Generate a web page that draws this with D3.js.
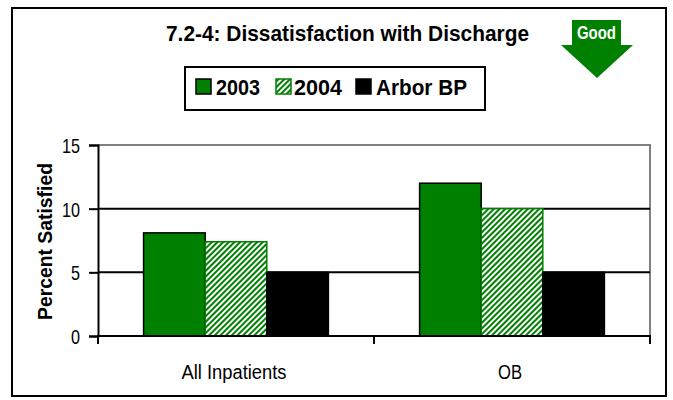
<!DOCTYPE html>
<html>
<head>
<meta charset="utf-8">
<script src="https://cdn.jsdelivr.net/npm/d3@7"></script>
<style>
  body { margin: 0; background: #fff; }
  svg { display: block; font-family: "Liberation Sans", Arial, sans-serif; }
</style>
</head>
<body>
<div id="chart"></div>
<script>
var categories = ["All Inpatients", "OB"];
var series = ["2003", "2004", "Arbor BP"];
var values2003 = [8.1, 12.0];
var values2004 = [7.4, 10.0];
var valuesArbor = [5.0, 5.0];
var yTicks = [0, 5, 10, 15];

var width = 673, height = 400;
var green = "#008000";
var fontFam = "Liberation Sans, Arial, sans-serif";

var svg = d3.select("#chart").append("svg")
  .attr("width", width)
  .attr("height", height)
  .attr("font-family", fontFam);

// hatch for 2004
var defs = svg.append("defs");
var pat = defs.append("pattern")
  .attr("id", "hatch")
  .attr("patternUnits", "userSpaceOnUse")
  .attr("width", 4).attr("height", 4)
  .attr("patternTransform", "rotate(45)");
pat.append("rect").attr("width", 4).attr("height", 4).attr("fill", "#fff");
pat.append("rect").attr("x", 0).attr("width", 2).attr("height", 4).attr("fill", green);

// outer frame
svg.append("rect")
  .attr("x", 12).attr("y", 8)
  .attr("width", 654).attr("height", 388)
  .attr("fill", "none").attr("stroke", "#000").attr("stroke-width", 2);

// title
svg.append("text")
  .attr("x", 347.5).attr("y", 41)
  .attr("text-anchor", "middle")
  .attr("font-weight", "bold").attr("font-size", 22)
  .attr("textLength", 363).attr("lengthAdjust", "spacingAndGlyphs")
  .text("7.2-4: Dissatisfaction with Discharge");

// Good arrow
var arrow = svg.append("g");
arrow.append("path")
  .attr("d", "M572,20 L621,20 L621,45 L633,45 L597,78 L561,45 L572,45 Z")
  .attr("fill", green);
arrow.append("text")
  .attr("x", 596.5).attr("y", 39)
  .attr("text-anchor", "middle")
  .attr("fill", "#fff").attr("font-weight", "bold").attr("font-size", 19)
  .attr("textLength", 39).attr("lengthAdjust", "spacingAndGlyphs")
  .text("Good");

// legend
var legend = svg.append("g");
legend.append("rect")
  .attr("x", 185).attr("y", 67).attr("width", 300).attr("height", 43)
  .attr("fill", "#fff").attr("stroke", "#000").attr("stroke-width", 2);
var legendItems = [
  { name: series[0], sx: 196, tx: 216, tw: 44, fill: green, stroke: "#000" },
  { name: series[1], sx: 276, tx: 294, tw: 48, fill: "url(#hatch)", stroke: green },
  { name: series[2], sx: 356, tx: 376, tw: 91, fill: "#000", stroke: "#000" }
];
legendItems.forEach(function(d) {
  legend.append("rect")
    .attr("x", d.sx).attr("y", 79).attr("width", 15).attr("height", 15)
    .attr("fill", d.fill).attr("stroke", d.stroke).attr("stroke-width", 1.5);
  legend.append("text")
    .attr("x", d.tx).attr("y", 95)
    .attr("font-weight", "bold").attr("font-size", 22)
    .attr("textLength", d.tw).attr("lengthAdjust", "spacingAndGlyphs")
    .text(d.name);
});

// scales
var x0 = d3.scaleBand().domain(categories).range([98, 650]).padding(0);
var x1 = d3.scaleBand().domain(series).range([0, x0.bandwidth()])
  .paddingInner(0).paddingOuter(0.74);
var y = d3.scaleLinear().domain([0, 15]).range([336, 145]);

// plot area border (gray top/right)
svg.append("path")
  .attr("d", "M98," + y(15) + " L650," + y(15) + " L650," + y(0))
  .attr("fill", "none").attr("stroke", "#808080").attr("stroke-width", 2);

// gridlines
svg.append("g").selectAll("line")
  .data(yTicks.filter(function(t) { return t > 0 && t < 15; }))
  .join("line")
  .attr("x1", 98).attr("x2", 650)
  .attr("y1", function(d) { return y(d); }).attr("y2", function(d) { return y(d); })
  .attr("stroke", "#000").attr("stroke-width", 2);

// bars
var barData = [];
categories.forEach(function(c, i) {
  barData.push({ cat: c, s: series[0], v: values2003[i] });
  barData.push({ cat: c, s: series[1], v: values2004[i] });
  barData.push({ cat: c, s: series[2], v: valuesArbor[i] });
});
var fills = { "2003": green, "2004": "url(#hatch)", "Arbor BP": "#000" };
var strokes = { "2003": "#000", "2004": green, "Arbor BP": "#000" };

svg.append("g").selectAll("rect")
  .data(barData)
  .join("rect")
  .attr("x", function(d) { return x0(d.cat) + x1(d.s); })
  .attr("y", function(d) { return y(d.v); })
  .attr("width", x1.bandwidth())
  .attr("height", function(d) { return y(0) - y(d.v); })
  .attr("fill", function(d) { return fills[d.s]; })
  .attr("stroke", function(d) { return strokes[d.s]; })
  .attr("stroke-width", 1.5);

// y axis
var yAxis = svg.append("g")
  .attr("transform", "translate(98,0)")
  .call(d3.axisLeft(y).tickValues(yTicks).tickSize(9).tickPadding(9));
yAxis.attr("font-family", fontFam).attr("font-size", 21);
yAxis.select(".domain").attr("stroke", "#000").attr("stroke-width", 2);
yAxis.selectAll(".tick line").attr("stroke", "#000").attr("stroke-width", 2);
yAxis.selectAll(".tick text")
  .attr("fill", "#000")
  .attr("dy", "0.36em")
  .attr("textLength", function(d) { return String(d).length * 9; })
  .attr("lengthAdjust", "spacingAndGlyphs");

// x axis
var xAxisLine = svg.append("g");
xAxisLine.append("line")
  .attr("x1", 97).attr("x2", 651).attr("y1", y(0)).attr("y2", y(0))
  .attr("stroke", "#000").attr("stroke-width", 2);
var xTickPos = [x0.range()[0]].concat(categories.map(function(c) { return x0(c) + x0.bandwidth(); }));
xAxisLine.selectAll("line.tk")
  .data(xTickPos)
  .join("line")
  .attr("class", "tk")
  .attr("x1", function(d) { return d; }).attr("x2", function(d) { return d; })
  .attr("y1", y(0)).attr("y2", y(0) + 8)
  .attr("stroke", "#000").attr("stroke-width", 2);
svg.append("g").selectAll("text")
  .data(categories)
  .join("text")
  .attr("x", function(d) { return x0(d) + x0.bandwidth() / 2 - 2; })
  .attr("y", 379)
  .attr("text-anchor", "middle")
  .attr("font-size", 20)
  .attr("textLength", function(d) { return d === "OB" ? 24 : 105; })
  .attr("lengthAdjust", "spacingAndGlyphs")
  .text(function(d) { return d; });

// y label
svg.append("text")
  .attr("transform", "translate(52,241.5) rotate(-90)")
  .attr("text-anchor", "middle")
  .attr("font-weight", "bold").attr("font-size", 21)
  .attr("textLength", 157).attr("lengthAdjust", "spacingAndGlyphs")
  .text("Percent Satisfied");
</script>
</body>
</html>
